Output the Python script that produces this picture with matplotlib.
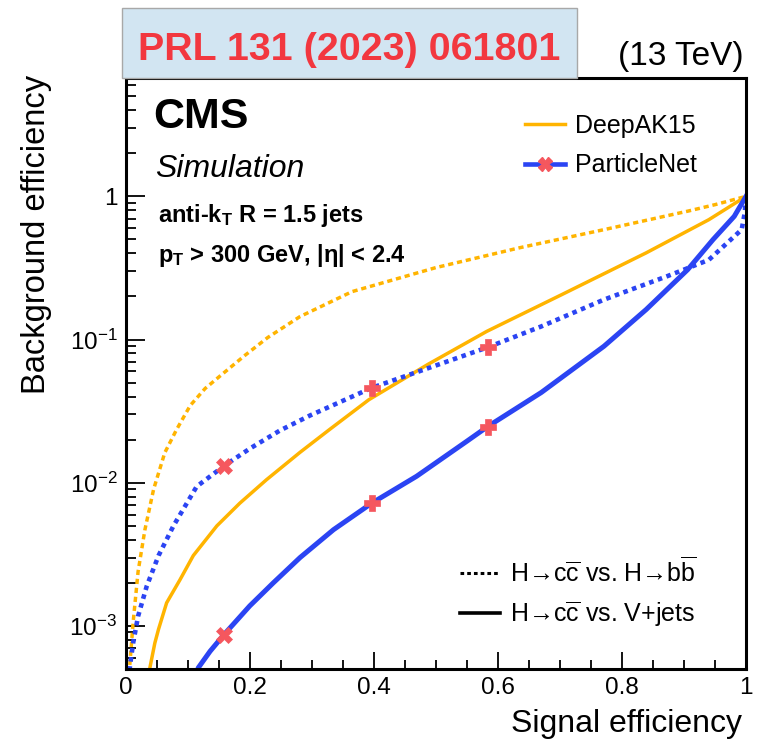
import matplotlib
matplotlib.use("Agg")
import matplotlib.pyplot as plt
from matplotlib.lines import Line2D
from matplotlib.patches import Rectangle
from matplotlib.ticker import FixedLocator, MultipleLocator, LogLocator, NullFormatter

# ROC curves: signal efficiency vs background efficiency
# DeepAK15, H->cc vs H->bb
dak_bb_x = [0.004, 0.007, 0.012, 0.020, 0.031, 0.045, 0.063, 0.082, 0.104, 0.128, 0.155, 0.192,
            0.229, 0.281, 0.365, 0.50, 0.636, 0.771, 0.906, 0.95, 1.0]
dak_bb_y = [4.0e-4, 5.6e-4, 1.06e-3, 2.4e-3, 4.7e-3, 9.0e-3, 0.0162, 0.0235, 0.0346, 0.0455, 0.057, 0.0774,
            0.1033, 0.1447, 0.2162, 0.318, 0.4385, 0.5855, 0.788, 0.875, 1.0]

# DeepAK15, H->cc vs V+jets
dak_vj_x = [0.036, 0.039, 0.047, 0.053, 0.066, 0.0875, 0.109, 0.147, 0.184, 0.227, 0.281, 0.329,
            0.392, 0.487, 0.582, 0.703, 0.839, 0.94, 1.0]
dak_vj_y = [4.0e-4, 5.1e-4, 7.6e-4, 9.5e-4, 1.45e-3, 2.1e-3, 3.1e-3, 5.0e-3, 7.2e-3, 0.0105, 0.0163, 0.0236,
            0.038, 0.067, 0.114, 0.206, 0.403, 0.687, 1.0]

# ParticleNet, H->cc vs H->bb
pn_bb_x = [0.005, 0.0069, 0.012, 0.02, 0.034, 0.053, 0.077, 0.1145, 0.1585, 0.2004, 0.2487, 0.2971,
           0.3966, 0.5, 0.5836, 0.6694, 0.771, 0.873, 0.94, 0.993, 0.998, 1.0]
pn_bb_y = [4.2e-4, 5.25e-4, 7.6e-4, 1.17e-3, 1.9e-3, 3.1e-3, 5.0e-3, 9.42e-3, 0.0131, 0.01735, 0.02317, 0.02949,
           0.046, 0.0659, 0.0883, 0.1232, 0.19, 0.277, 0.36, 0.586, 0.77, 1.0]

# ParticleNet, H->cc vs V+jets
pn_vj_x = [0.112, 0.117, 0.136, 0.1585, 0.2, 0.238, 0.281, 0.335, 0.3966, 0.469, 0.55, 0.5836, 0.67,
           0.771, 0.839, 0.906, 0.947, 0.981, 1.0]
pn_vj_y = [4.3e-4, 5.1e-4, 6.65e-4, 8.7e-4, 1.38e-3, 2.0e-3, 3.0e-3, 4.7e-3, 7.2e-3, 0.0111, 0.0195, 0.0247, 0.0427,
           0.0898, 0.162, 0.308, 0.5, 0.725, 1.0]

# ParticleNet working points
wp_x = [0.1585, 0.3966, 0.5836]
wp_bb = [0.0131, 0.046, 0.0883]
wp_vj = [8.7e-4, 7.2e-3, 0.0247]

x_ticks = [0, 0.2, 0.4, 0.6, 0.8, 1.0]
x_ticklabels = ["0", "0.2", "0.4", "0.6", "0.8", "1"]
y_ticks = [1e-3, 1e-2, 1e-1, 1]
y_ticklabels = [r"$10^{-3}$", r"$10^{-2}$", r"$10^{-1}$", "1"]

YELLOW = "#ffb400"
BLUE = "#2b44f3"
RED = "#f5575e"

plt.rcParams["font.family"] = ["Liberation Sans", "DejaVu Sans"]
plt.rcParams["mathtext.fontset"] = "custom"
plt.rcParams["mathtext.rm"] = "Liberation Sans"
plt.rcParams["mathtext.it"] = "Liberation Sans:italic"
plt.rcParams["mathtext.bf"] = "Liberation Sans:bold"

fig = plt.figure(figsize=(7.59, 7.40), dpi=100)
ax = fig.add_axes([0.1656, 0.0959, 0.8173, 0.7986])

ax.plot(dak_bb_x, dak_bb_y, color=YELLOW, lw=2.5, ls=(0, (1.5, 1.1)), dash_capstyle="butt")
ax.plot(dak_vj_x, dak_vj_y, color=YELLOW, lw=2.5)
ax.plot(pn_bb_x, pn_bb_y, color=BLUE, lw=3.3, ls=(0, (1.0, 1.0)), dash_capstyle="butt")
ax.plot(pn_vj_x, pn_vj_y, color=BLUE, lw=3.6)

wp_markers = ["X", "P", "P"]
for xx, yb, yv, mk in zip(wp_x, wp_bb, wp_vj, wp_markers):
    ax.plot([xx, xx], [yb, yv], ls="none", marker=mk, ms=11.5, mfc=RED, mec=RED, mew=0.5, zorder=5)

ax.set_xlim(0, 1)
ax.set_yscale("log")
ax.set_ylim(5.0e-4, 6.7)

ax.xaxis.set_major_locator(FixedLocator(x_ticks))
ax.set_xticklabels(x_ticklabels)
ax.xaxis.set_minor_locator(MultipleLocator(0.05))
ax.yaxis.set_major_locator(FixedLocator(y_ticks))
ax.set_yticklabels(y_ticklabels)
ax.yaxis.set_minor_locator(LogLocator(base=10, subs=range(2, 10), numticks=20))
ax.yaxis.set_minor_formatter(NullFormatter())

ax.tick_params(which="both", direction="in", top=False, right=False, labelsize=17.5, width=1.3, pad=6)
ax.tick_params(axis="y", which="major", length=14)
ax.tick_params(axis="y", which="minor", length=7)
ax.tick_params(axis="x", which="major", length=12)
ax.tick_params(axis="x", which="minor", length=6.5)
for sp in ax.spines.values():
    sp.set_linewidth(2.2)

ax.set_xlabel("Signal efficiency", fontsize=23, loc="right")
ax.xaxis.label.set_va("baseline")
ax.xaxis.set_label_coords(0.9935, -0.1066)
ax.set_ylabel("Background efficiency", fontsize=23.5, loc="top")
ax.yaxis.set_label_coords(-0.119, 1.005)

# labels inside the frame
ax.text(0.0445, 0.915, "CMS", transform=ax.transAxes, fontsize=31, fontweight="bold", va="baseline")
ax.text(0.047, 0.833, "Simulation", transform=ax.transAxes, fontsize=23, style="italic", va="baseline")
ax.text(0.0526, 0.756, r"anti-k$_{\mathbf{T}}$ R = 1.5 jets", transform=ax.transAxes,
        fontsize=17, fontweight="bold", va="baseline")
ax.text(0.0526, 0.689, r"p$_{\mathbf{T}}$ > 300 GeV, |η| < 2.4", transform=ax.transAxes,
        fontsize=17, fontweight="bold", va="baseline")

# algorithm legend
algo_handles = [Line2D([], [], color=YELLOW, lw=2.5),
                Line2D([], [], color=BLUE, lw=3.3, marker="X", ms=10, mfc=RED, mec=RED)]
leg1 = ax.legend(algo_handles, ["DeepAK15", "ParticleNet"], loc="upper left",
                 bbox_to_anchor=(525 / 759, 1 - 114 / 740), bbox_transform=fig.transFigure,
                 frameon=False, fontsize=18, handlelength=1.6, handletextpad=0.4,
                 labelspacing=0.62, borderpad=0, borderaxespad=0)
ax.add_artist(leg1)

# process legend
proc_handles = [Line2D([], [], color="black", lw=2.2, ls=(0, (1.2, 1.0)), dash_capstyle="butt"),
                Line2D([], [], color="black", lw=2.6)]
proc_labels = [r"H→c$\overline{\mathrm{c}}$ vs. H→b$\overline{\mathrm{b}}$",
               r"H→c$\overline{\mathrm{c}}$ vs. V+jets"]
ax.legend(proc_handles, proc_labels, loc="upper left",
          bbox_to_anchor=(460 / 759, 1 - 557 / 740), bbox_transform=fig.transFigure,
          frameon=False, fontsize=18, handlelength=1.6, handletextpad=0.4,
          labelspacing=0.5, borderpad=0, borderaxespad=0)

# journal reference banner and energy
fig.patches.append(Rectangle((122 / 759, 1 - 78 / 740), (577 - 122) / 759, 70 / 740,
                             transform=fig.transFigure, facecolor="#d2e5f2",
                             edgecolor="#a8a8a8", lw=1.0, zorder=0))
fig.text(349.5 / 759, 1 - 60 / 740, "PRL 131 (2023) 061801", fontsize=28.4, fontweight="bold",
         color="#f2373f", ha="center", va="baseline")
fig.text(744 / 759, 1 - 65 / 740, "(13 TeV)", fontsize=24, ha="right", va="baseline")

fig.savefig("out.png", dpi=100)
